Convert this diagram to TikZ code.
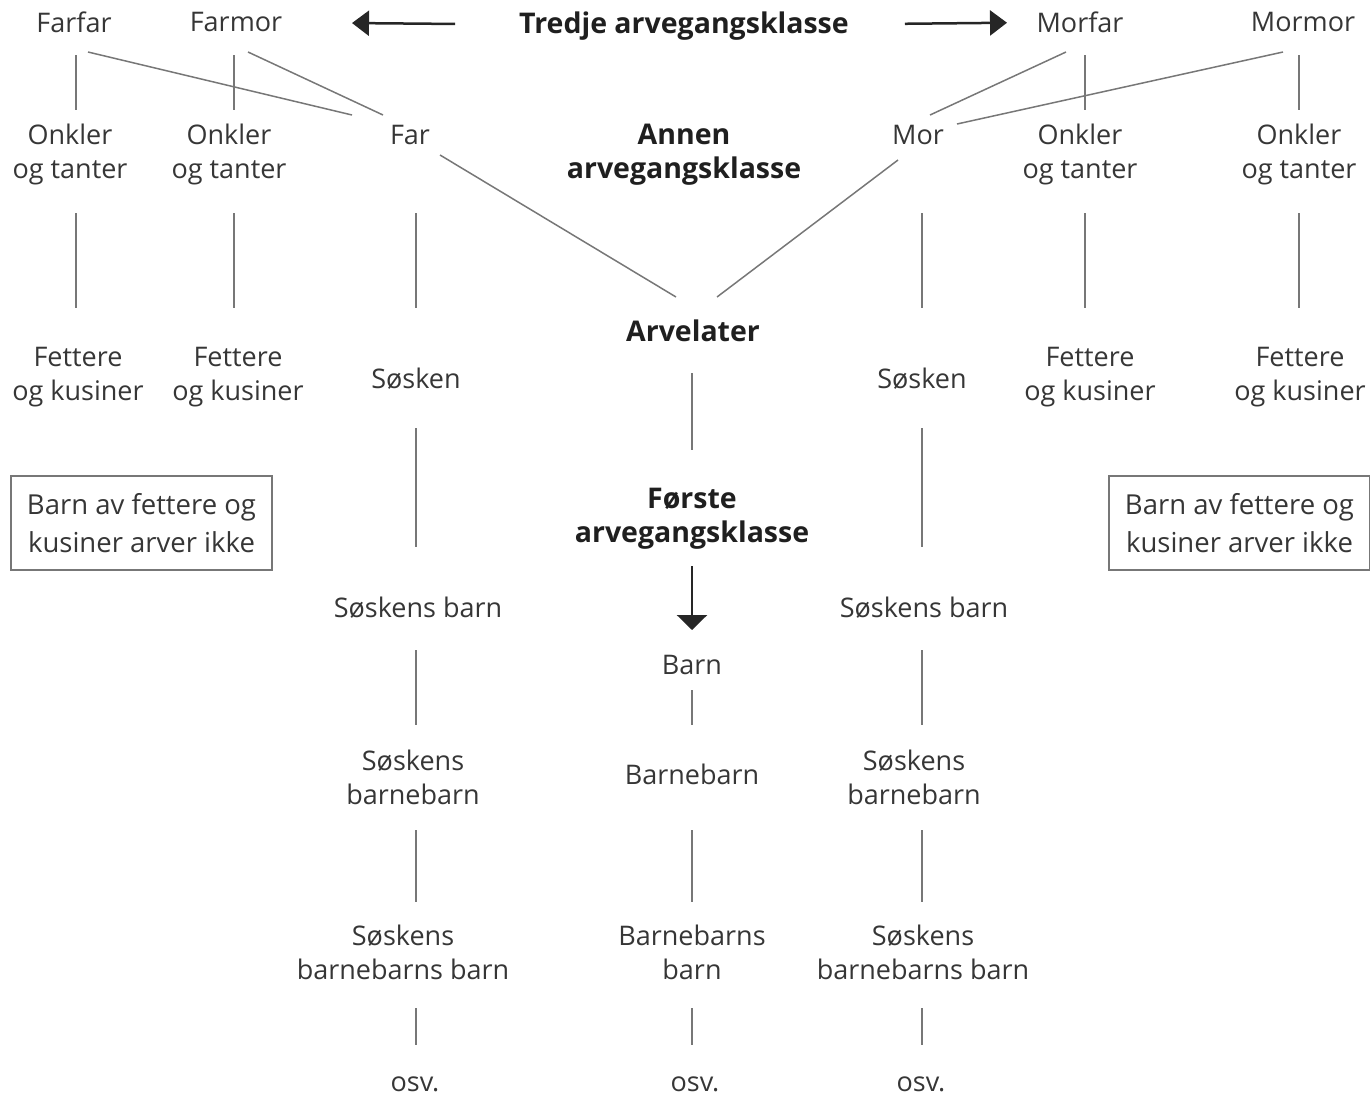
\documentclass[tikz,border=0pt]{standalone}
\usepackage{fontspec}
\setmainfont{Open Sans}
\usetikzlibrary{arrows.meta,calc}
\definecolor{txtgray}{HTML}{363636}
\definecolor{linegray}{HTML}{777777}
\begin{document}
\begin{tikzpicture}[x=1pt,y=-1pt,
  every node/.style={font=\fontsize{27}{34}\selectfont,text=txtgray,inner sep=0pt,align=center},
  hd/.style={font=\fontsize{28.5}{34}\selectfont\bfseries,text=black!88},
  note/.style={draw=linegray,line width=2pt,minimum width=261pt,minimum height=94pt,font=\fontsize{27.5}{38}\selectfont},
  ln/.style={draw=linegray,line width=1.5pt},
  gap/.style 2 args={shorten <=#1pt,shorten >=#2pt},
  sidearrow/.style={draw=black!85,line width=2.5pt,-{Triangle[length=17pt,width=25pt]}},
  downarrow/.style={draw=black!85,line width=2.5pt,-{Triangle[length=15pt,width=30pt]}}]
\useasboundingbox (0,0) rectangle (1370,1096);
% column lines
\coordinate (colA) at (76,0);
\coordinate (colB) at (234,0);
\coordinate (colC) at (416,0);
\coordinate (colD) at (692,0);
\coordinate (colE) at (922,0);
\coordinate (colF) at (1085,0);
\coordinate (colG) at (1299,0);

% tredje arvegangsklasse
\node (farfar) at (74,22) {Farfar};
\node (farmor) at (236,22) {Farmor};
\node[hd] (tredje) at (684,26) {Tredje arvegangsklasse};
\node (morfar) at (1080,22) {Morfar};
\node (mormor) at (1303,22) {Mormor};

% annen arvegangsklasse
\node (onk1) at (70,154) {Onkler\\og tanter};
\node (onk2) at (229,154) {Onkler\\og tanter};
\node (far) at (410,135) {Far};
\node[hd] (annen) at (684,155) {Annen\\arvegangsklasse};
\node (mor) at (918,135) {Mor};
\node (onk3) at (1080,154) {Onkler\\og tanter};
\node (onk4) at (1299,154) {Onkler\\og tanter};

\node[hd] (arvelater) at (693,331) {Arvelater};

\node (fet1) at (78,377) {Fettere\\og kusiner};
\node (fet2) at (238,377) {Fettere\\og kusiner};
\node (sosk1) at (416,379) {Søsken};
\node (sosk2) at (922,379) {Søsken};
\node (fet3) at (1090,377) {Fettere\\og kusiner};
\node (fet4) at (1300,377) {Fettere\\og kusiner};

\node[note] (box1) at (141.5,523) {Barn av fettere og\\kusiner arver ikke};
\node[hd] (forste) at (692,519) {Første\\arvegangsklasse};
\node[note] (box2) at (1239.5,523) {Barn av fettere og\\kusiner arver ikke};

% første arvegangsklasse
\node (sb1) at (418,608) {Søskens barn};
\node (barn) at (692,665) {Barn};
\node (sb2) at (924,608) {Søskens barn};
\node (sbb1) at (413,777) {Søskens\\barnebarn};
\node (bb) at (692,774) {Barnebarn};
\node (sbb2) at (914,777) {Søskens\\barnebarn};
\node (sbbb1) at (403,952) {Søskens\\barnebarns barn};
\node (bbb) at (692,952) {Barnebarns\\barn};
\node (sbbb2) at (923,952) {Søskens\\barnebarns barn};
\node (osv1) at (415,1084) {osv.};
\node (osv2) at (695,1084) {osv.};
\node (osv3) at (921,1084) {osv.};

% arrows
\draw[sidearrow,gap={229}{116}] (tredje.center) -- (farmor.center);
\draw[sidearrow,gap={221}{73}] (tredje.center) -- (morfar.center);
\draw[downarrow,gap={47}{35}] (forste.center -| colD) -- (barn.center -| colD);

% grandparents
\draw[ln,gap={33}{44}] (farfar.center -| colA) -- (onk1.center -| colA);
\draw[ln,gap={33}{44}] (farmor.center -| colB) -- (onk2.center -| colB);
\draw[ln,gap={33}{44}] (morfar.center -| colF) -- (onk3.center -| colF);
\draw[ln,gap={33}{44}] (mormor.center -| colG) -- (onk4.center -| colG);
\draw[ln] ($(farfar.center)+(14,30)$) -- ($(far.center)+(-58,-20)$);
\draw[ln] ($(farmor.center)+(12,30)$) -- ($(far.center)+(-27,-20)$);
\draw[ln] ($(morfar.center)+(-14,30)$) -- ($(mor.center)+(12,-20)$);
\draw[ln] ($(mormor.center)+(-20,30)$) -- ($(mor.center)+(39,-11)$);

% parents
\draw[ln] ($(far.center)+(30,20)$) -- ($(arvelater.center)+(-17,-34)$);
\draw[ln] ($(mor.center)+(-20,25)$) -- ($(arvelater.center)+(24,-34)$);
\draw[ln,gap={59}{69}] (onk1.center -| colA) -- (fet1.center -| colA);
\draw[ln,gap={59}{69}] (onk2.center -| colB) -- (fet2.center -| colB);
\draw[ln,gap={59}{69}] (onk3.center -| colF) -- (fet3.center -| colF);
\draw[ln,gap={59}{69}] (onk4.center -| colG) -- (fet4.center -| colG);
\draw[ln,gap={78}{71}] (far.center -| colC) -- (sosk1.center -| colC);
\draw[ln,gap={78}{71}] (mor.center -| colE) -- (sosk2.center -| colE);

% siblings
\draw[ln,gap={49}{61}] (sosk1.center -| colC) -- (sb1.center -| colC);
\draw[ln,gap={42}{52}] (sb1.center -| colC) -- (sbb1.center -| colC);
\draw[ln,gap={53}{50}] (sbb1.center -| colC) -- (sbbb1.center -| colC);
\draw[ln,gap={56}{39}] (sbbb1.center -| colC) -- (osv1.center -| colC);
\draw[ln,gap={49}{61}] (sosk2.center -| colE) -- (sb2.center -| colE);
\draw[ln,gap={42}{52}] (sb2.center -| colE) -- (sbb2.center -| colE);
\draw[ln,gap={53}{50}] (sbb2.center -| colE) -- (sbbb2.center -| colE);
\draw[ln,gap={56}{39}] (sbbb2.center -| colE) -- (osv3.center -| colE);

% descendants
\draw[ln,gap={42}{69}] (arvelater.center -| colD) -- (forste.center -| colD);
\draw[ln,gap={25}{49}] (barn.center -| colD) -- (bb.center -| colD);
\draw[ln,gap={56}{50}] (bb.center -| colD) -- (bbb.center -| colD);
\draw[ln,gap={56}{39}] (bbb.center -| colD) -- (osv2.center -| colD);
\end{tikzpicture}
\end{document}
